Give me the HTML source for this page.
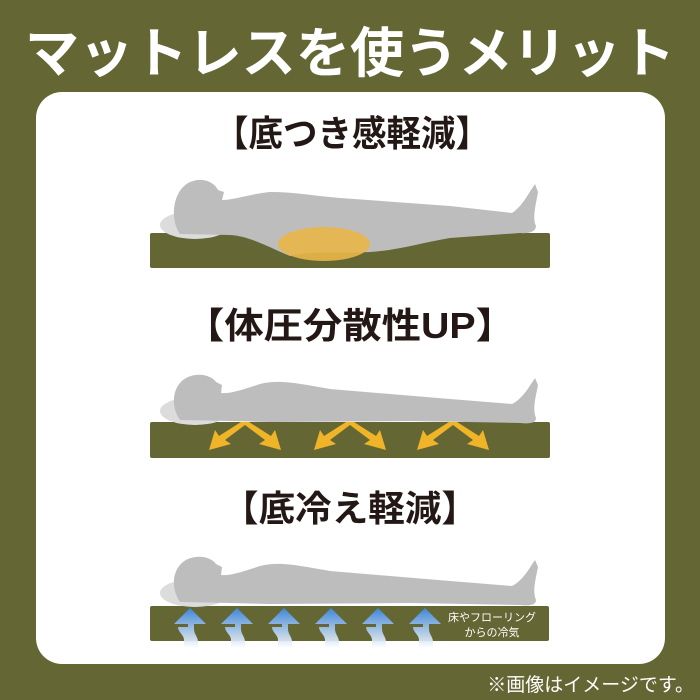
<!DOCTYPE html>
<html><head><meta charset="utf-8"><style>
html,body{margin:0;padding:0;background:#646634;}
svg{display:block}
text{font-family:"Liberation Sans","Noto Sans CJK JP",sans-serif;font-weight:bold}
</style></head><body>
<svg width="700" height="700" viewBox="0 0 700 700" xmlns="http://www.w3.org/2000/svg">
<defs>
<linearGradient id="bl" x1="0" y1="1" x2="0" y2="0">
<stop offset="0" stop-color="#ffffff" stop-opacity="0.9"/>
<stop offset="1" stop-color="#3d86d8"/>
</linearGradient>
<g id="person">
<ellipse cx="45" cy="-13" rx="35" ry="14" fill="#dcdcdc"/>
<path d="M30,-4 C20,-18 22,-40 38,-47 C50,-52 62,-48 66,-42 L72,-39 L71,-31 C80,-30 92,-34 110,-40 C130,-45 150,-40 180,-35 L300,-25 L362,-20 C370,-24 376,-32 381,-40 L385,-46 L388,-39 C386,-28 382,-15 386,-6 C386,-1 380,0 370,-1 L260,-3 L120,-2 L80,-3 Z" fill="#bdbdbd"/>
</g>
<g id="arr">
<path d="M-6,24 L-6,16 C-6,11 -12,8 -12,3 L-2,3 L-2,0 L-16,0 L0,-16 L16,0 L4,0 L4,5 C4,10 8,13 8,18 L8,24 Z" fill="url(#bl)"/>
</g>
<g id="chev" fill="#f0b428">
<path d="M-4,422 L4,422 L-20,440 L-14,444 L-36,450 L-30,430 L-26,436 Z"/>
<path d="M4,422 L-4,422 L20,440 L14,444 L36,450 L30,430 L26,436 Z"/>
</g>
</defs>
<rect width="700" height="700" fill="#646634"/>
<text x="350" y="72" fill="#fff" font-size="54" text-anchor="middle" textLength="650" lengthAdjust="spacingAndGlyphs">マットレスを使うメリット</text>
<rect x="36" y="92" width="629" height="572" rx="26" fill="#fff"/>
<text x="352" y="146" fill="#231815" font-size="36" text-anchor="middle" textLength="276" lengthAdjust="spacingAndGlyphs">【底つき感軽減】</text>
<text x="350" y="338" fill="#231815" font-size="36" text-anchor="middle" textLength="330" lengthAdjust="spacingAndGlyphs">【体圧分散性UP】</text>
<text x="350" y="521" fill="#231815" font-size="36" text-anchor="middle" textLength="256" lengthAdjust="spacingAndGlyphs">【底冷え軽減】</text>

<!-- section 1 -->
<rect x="150" y="233" width="400" height="35" rx="2" fill="#646634"/>
<g transform="translate(150,238)">
<ellipse cx="45" cy="-13" rx="35" ry="14" fill="#dcdcdc"/>
<path d="M30,-4 C20,-18 22,-45 38,-55 C52,-62 64,-56 68,-48 L74,-46 L72,-38 C84,-38 100,-44 120,-46 C145,-46 165,-42 190,-40 L300,-32 L362,-25 C370,-30 376,-40 381,-48 L385,-54 L388,-46 C386,-34 382,-20 386,-12 C386,-7 380,-4 370,-5 L300,0 C270,5 250,12 220,14 C190,16 170,12 140,18 C120,10 100,-2 80,-3 Z" fill="#bdbdbd"/>
</g>
<ellipse cx="324" cy="244" rx="46" ry="17" fill="#e8b648" opacity="0.9"/>

<!-- section 2 -->
<rect x="150" y="422" width="400" height="36" rx="2" fill="#646634"/>
<use href="#person" transform="translate(150,424)"/>
<use href="#chev" transform="translate(245,0)"/>
<use href="#chev" transform="translate(350,0)"/>
<use href="#chev" transform="translate(453,0)"/>

<!-- section 3 -->
<rect x="150" y="606" width="399" height="35" rx="2" fill="#646634"/>
<use href="#person" transform="translate(150,606)"/>
<use href="#arr" transform="translate(190,624)"/>
<use href="#arr" transform="translate(237,624)"/>
<use href="#arr" transform="translate(284,624)"/>
<use href="#arr" transform="translate(331,624)"/>
<use href="#arr" transform="translate(378,624)"/>
<use href="#arr" transform="translate(425,624)"/>
<text x="492" y="621" fill="#fff" font-size="11" text-anchor="middle" style="font-weight:normal">床やフローリング</text>
<text x="492" y="636" fill="#fff" font-size="11" text-anchor="middle" style="font-weight:normal">からの冷気</text>

<text x="694" y="691" fill="#fff" font-size="19" text-anchor="end" style="font-weight:normal">※画像はイメージです。</text>
</svg>
</body></html>
